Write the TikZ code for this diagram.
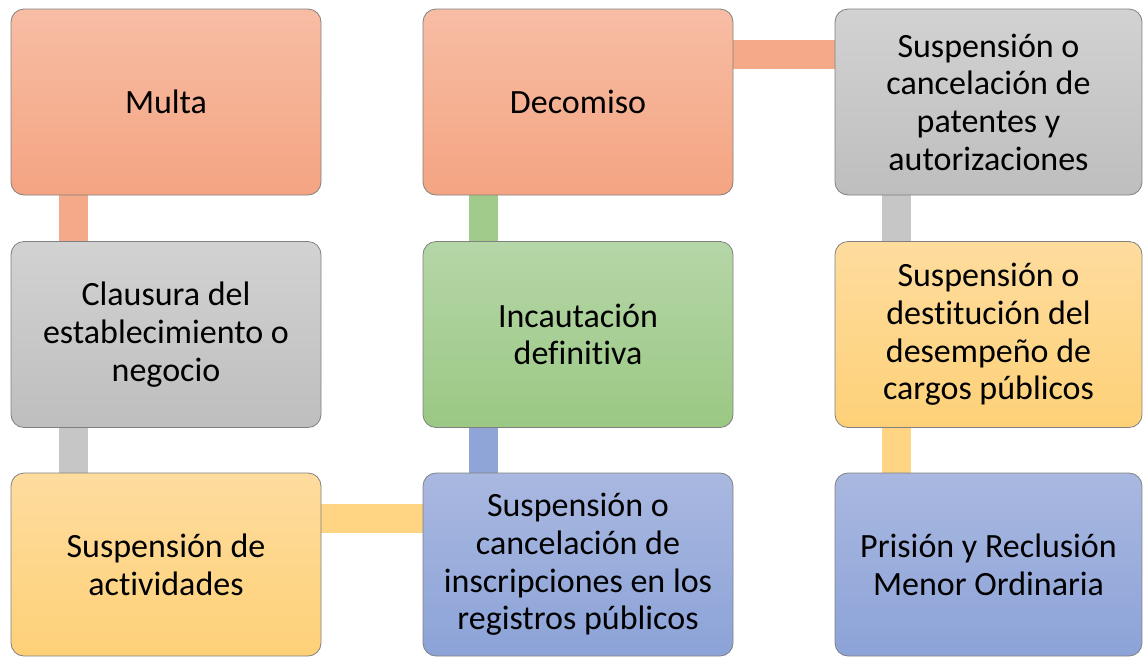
\documentclass[tikz,border=0pt]{standalone}
\usepackage{fontspec}
\setmainfont{Carlito}[Ligatures=NoCommon]
\usepackage{tikz}
\usetikzlibrary{backgrounds}

\definecolor{salmonTop}{HTML}{F7BDA4}
\definecolor{salmonBot}{HTML}{F4A482}
\definecolor{salmonLine}{HTML}{F4AA88}
\definecolor{grisTop}{HTML}{D2D2D2}
\definecolor{grisBot}{HTML}{BEBEBE}
\definecolor{grisLine}{HTML}{C6C6C6}
\definecolor{amarTop}{HTML}{FEDC9E}
\definecolor{amarBot}{HTML}{FED178}
\definecolor{amarLine}{HTML}{FFD584}
\definecolor{azulTop}{HTML}{A9B8E0}
\definecolor{azulBot}{HTML}{8CA3D8}
\definecolor{azulLine}{HTML}{8FA5D8}
\definecolor{verdeTop}{HTML}{B5D6A7}
\definecolor{verdeBot}{HTML}{9BC884}
\definecolor{verdeLine}{HTML}{A0CB8B}

\begin{document}
\begin{tikzpicture}[x=1pt, y=-1pt,
    caja/.style={draw=black!50, line width=0.8pt, rounded corners=13pt,
      minimum width=310pt, minimum height=186pt, inner sep=0pt,
      align=center, font=\fontsize{34}{37.7}\selectfont},
    salmon/.style={caja, top color=salmonTop, bottom color=salmonBot},
    gris/.style={caja, top color=grisTop, bottom color=grisBot},
    amar/.style={caja, top color=amarTop, bottom color=amarBot},
    azul/.style={caja, top color=azulTop, bottom color=azulBot},
    verde/.style={caja, top color=verdeTop, bottom color=verdeBot},
    enlace/.style={line width=28.5pt}]
  \useasboundingbox (0,0) rectangle (1143,657);

  % column 1
  \node[salmon] (multa) at (166,102) {Multa};
  \node[gris] (clausura) at (166,334.5) {Clausura del\\establecimiento o\\negocio};
  \node[amar, minimum height=183pt] (actividades) at (166,564.5) {Suspensi\'on de\\actividades};

  % column 2
  \node[salmon] (decomiso) at (578,102) {Decomiso};
  \node[verde] (incautacion) at (578,334.5) {Incautaci\'on\\definitiva};
  \node[azul, minimum height=183pt] (inscripciones) at (578,564.5) {Suspensi\'on o\\cancelaci\'on de\\inscripciones en los\\registros p\'ublicos};

  % column 3
  \node[gris, minimum width=307pt] (patentes) at (988.5,102) {Suspensi\'on o\\cancelaci\'on de\\patentes y\\autorizaciones};
  \node[amar, minimum width=307pt] (cargos) at (988.5,334.5) {Suspensi\'on o\\destituci\'on del\\desempe\~no de\\cargos p\'ublicos};
  \node[azul, minimum width=307pt, minimum height=183pt] (prision) at (988.5,564.5) {Prisi\'on y Reclusi\'on\\Menor Ordinaria};

  \begin{scope}[on background layer]
    \draw[enlace, color=salmonLine] ([xshift=63pt]multa.south west) -- ([xshift=63pt]clausura.north west);
    \draw[enlace, color=grisLine] ([xshift=63pt]clausura.south west) -- ([xshift=63pt]actividades.north west);
    \draw[enlace, color=amarLine] ([yshift=-46pt]actividades.north east) -- ([yshift=-46pt]inscripciones.north west);
    \draw[enlace, color=azulLine] ([xshift=61pt]inscripciones.north west) -- ([xshift=61pt]incautacion.south west);
    \draw[enlace, color=verdeLine] ([xshift=61pt]incautacion.north west) -- ([xshift=61pt]decomiso.south west);
    \draw[enlace, color=salmonLine] ([yshift=-46pt]decomiso.north east) -- ([yshift=-46pt]patentes.north west);
    \draw[enlace, color=grisLine] ([xshift=62pt]patentes.south west) -- ([xshift=62pt]cargos.north west);
    \draw[enlace, color=amarLine] ([xshift=62pt]cargos.south west) -- ([xshift=62pt]prision.north west);
  \end{scope}
\end{tikzpicture}
\end{document}
